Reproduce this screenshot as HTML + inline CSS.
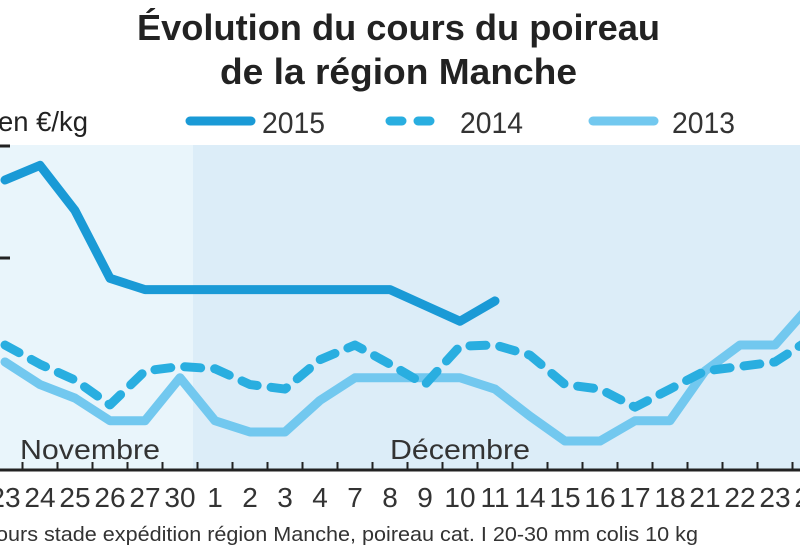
<!DOCTYPE html>
<html><head><meta charset="utf-8"><style>
body{margin:0;background:#fff;}
svg{display:block;font-family:"Liberation Sans",sans-serif;}
</style></head><body>
<svg width="800" height="550" viewBox="0 0 800 550" xmlns="http://www.w3.org/2000/svg" id="chart">
<rect x="0" y="145" width="193" height="325" fill="#e9f5fb"/>
<rect x="193" y="145" width="607" height="325" fill="#dcedf8"/>
<text x="137" y="40" textLength="523" lengthAdjust="spacingAndGlyphs" font-size="36" font-weight="bold" fill="#222">Évolution du cours du poireau</text>
<text x="220" y="84" textLength="357" lengthAdjust="spacingAndGlyphs" font-size="36" font-weight="bold" fill="#222">de la région Manche</text>
<text x="-2" y="131" textLength="90" lengthAdjust="spacingAndGlyphs" font-size="28" fill="#222">en €/kg</text>
<g>
<line x1="190" y1="121" x2="251" y2="121" stroke="#1a9ad6" stroke-width="9" stroke-linecap="round"/>
<text x="262" y="133" textLength="63" lengthAdjust="spacingAndGlyphs" font-size="30" fill="#333">2015</text>
<line x1="390" y1="121" x2="440" y2="121" stroke="#29aee0" stroke-width="9" stroke-linecap="round" stroke-dasharray="12 16"/>
<text x="460" y="133" textLength="63" lengthAdjust="spacingAndGlyphs" font-size="30" fill="#333">2014</text>
<line x1="593" y1="121" x2="654" y2="121" stroke="#72c8ef" stroke-width="9" stroke-linecap="round"/>
<text x="672" y="133" textLength="63" lengthAdjust="spacingAndGlyphs" font-size="30" fill="#333">2013</text>
</g>
<line x1="0" y1="146" x2="10" y2="146" stroke="#222" stroke-width="3"/>
<line x1="0" y1="258" x2="10" y2="258" stroke="#222" stroke-width="3"/>
<text x="20" y="459" textLength="140" lengthAdjust="spacingAndGlyphs" font-size="28" fill="#333">Novembre</text>
<text x="390" y="459" textLength="140" lengthAdjust="spacingAndGlyphs" font-size="28" fill="#333">Décembre</text>
<line x1="0" y1="470" x2="800" y2="470" stroke="#222" stroke-width="3"/>
<g id="ticks"></g>
<g id="series"></g>
<text x="-4" y="541" textLength="702" lengthAdjust="spacingAndGlyphs" font-size="20" fill="#333">ours stade expédition région Manche, poireau cat. I 20-30 mm colis 10 kg</text>
</svg>
<script>
const categories=["23","24","25","26","27","30","1","2","3","4","7","8","9","10","11","14","15","16","17","18","21","22","23","24"];
const s2015=[1.845,1.91,1.71,1.41,1.36,1.36,1.36,1.36,1.36,1.36,1.36,1.36,1.29,1.22,1.31,null,null,null,null,null,null,null,null,null];
const s2014=[1.115,1.03,0.96,0.85,1.0,1.02,1.01,0.94,0.92,1.05,1.115,1.03,0.94,1.11,1.115,1.07,0.94,0.92,0.84,0.92,1.0,1.02,1.04,1.14];
const s2013=[1.04,0.94,0.88,0.78,0.78,0.97,0.78,0.73,0.73,0.87,0.97,0.97,0.97,0.97,0.92,0.80,0.69,0.69,0.78,0.78,1.0,1.115,1.115,1.29];
const NS="http://www.w3.org/2000/svg";
function xs(i){return 5+35*i;}
function ys(v){return 258-(v-1.5)*226;}
const tg=document.getElementById('ticks');
categories.forEach((c,i)=>{
  const t=document.createElementNS(NS,'text');
  
  
  t.setAttribute('x',xs(i));t.setAttribute('y',507);
  t.setAttribute('text-anchor','middle');t.setAttribute('font-size','28');t.setAttribute('fill','#333');
  t.textContent=c;tg.appendChild(t);
  if(i<categories.length-1){
    const l=document.createElementNS(NS,'line');
    
    
    const x=xs(i)+17.5;
    l.setAttribute('x1',x);l.setAttribute('x2',x);l.setAttribute('y1',462);l.setAttribute('y2',470);
    l.setAttribute('stroke','#222');l.setAttribute('stroke-width','2');tg.appendChild(l);
  }
});
const sg=document.getElementById('series');
function draw(arr,name,color,dash){
  let d='';let started=false;
  arr.forEach((v,i)=>{if(v==null)return;d+=(started?'L':'M')+xs(i)+','+ys(v);started=true;});
  const p=document.createElementNS(NS,'path');
  
  
  p.setAttribute('d',d);p.setAttribute('fill','none');p.setAttribute('stroke',color);
  p.setAttribute('stroke-width','9');p.setAttribute('stroke-linecap','round');p.setAttribute('stroke-linejoin','round');
  if(dash)p.setAttribute('stroke-dasharray',dash);
  sg.appendChild(p);
}
draw(s2013,'series-2013','#72c8ef');
draw(s2014,'series-2014','#29aee0','16 14');
draw(s2015,'series-2015','#1a9ad6');
</script>
</body></html>
